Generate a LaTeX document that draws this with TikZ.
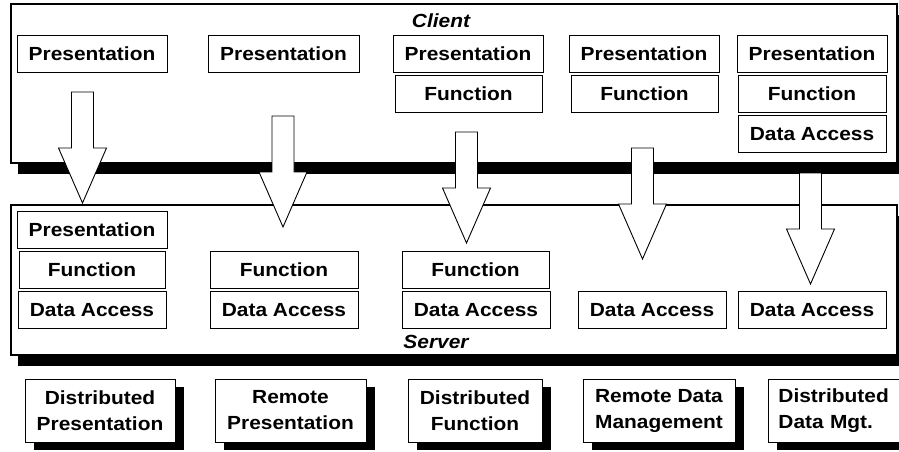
\documentclass[tikz,border=0pt]{standalone}
\usepackage{fontspec}
\setmainfont{Liberation Sans}[FakeStretch=1.1]
\usetikzlibrary{shadows}

\begin{document}
\begin{tikzpicture}[x=1pt, y=-1pt,
		tier/.style={draw, line width=1.6pt, fill=white, inner sep=0pt, minimum width=886pt},
		layer/.style={draw, line width=0.9pt, fill=white, inner sep=0pt, minimum height=37pt,
			font=\bfseries\fontsize{19}{23}\selectfont},
		model/.style={draw, line width=0.9pt, fill=white, inner sep=0pt, minimum height=63pt,
			align=center, font=\bfseries\fontsize{19}{26}\selectfont,
			drop shadow={shadow xshift=9pt, shadow yshift=-8pt, fill=black, opacity=1}},
		tiername/.style={font=\bfseries\itshape\fontsize{19}{23}\selectfont},
		blockarrow/.style={draw, line width=0.9pt, fill=white, line join=miter}]

		\useasboundingbox (0,0) rectangle (899,451);
		\clip (0,0) rectangle (899,451);

		\def\shaft{11} \def\head{24} % half widths of the block arrows
		\def\shaftlen{56} \def\arrowlen{111}

		% Client and server tiers
		\node[tier, minimum height=159pt,
			drop shadow={shadow xshift=7pt, shadow yshift=-11pt, fill=black, opacity=1}]
			(client) at (454,83.5) {};
		\node[tier, minimum height=150pt,
			drop shadow={shadow xshift=7pt, shadow yshift=-11pt, fill=black, opacity=1}]
			(server) at (454,280) {};
		\node[tiername] (clientname) at (441,21) {Client};
		\node[tiername] (servername) at (436,342) {Server};

		% Layers on the client
		\node[layer, minimum width=150pt] (c1p) at (92,54) {Presentation};
		\node[layer, minimum width=151pt] (c2p) at (283.5,54) {Presentation};
		\node[layer, minimum width=150pt] (c3p) at (468,54) {Presentation};
		\node[layer, minimum width=147pt] (c3f) at (468.5,94) {Function};
		\node[layer, minimum width=150pt] (c4p) at (644,54) {Presentation};
		\node[layer, minimum width=147pt] (c4f) at (644.5,94) {Function};
		\node[layer, minimum width=150pt] (c5p) at (812,54) {Presentation};
		\node[layer, minimum width=148pt] (c5f) at (812,94) {Function};
		\node[layer, minimum width=148pt] (c5d) at (812,134) {Data Access};

		% Layers on the server
		\node[layer, minimum width=150pt] (s1p) at (92,230) {Presentation};
		\node[layer, minimum width=146pt] (s1f) at (92,270) {Function};
		\node[layer, minimum width=148pt] (s1d) at (92,310) {Data Access};
		\node[layer, minimum width=148pt] (s2f) at (284,270) {Function};
		\node[layer, minimum width=148pt] (s2d) at (284,310) {Data Access};
		\node[layer, minimum width=147pt] (s3f) at (475.5,270) {Function};
		\node[layer, minimum width=148pt] (s3d) at (476,310) {Data Access};
		\node[layer, minimum width=148pt] (s4d) at (652,310) {Data Access};
		\node[layer, minimum width=148pt] (s5d) at (812,310) {Data Access};

		% Block arrows from client to server
		\foreach \ax/\ay in {82.5/92, 283/116, 466.5/132, 642.5/148, 810.5/173}
			\draw[blockarrow] (\ax-\shaft,\ay) -- (\ax+\shaft,\ay) -- (\ax+\shaft,\ay+\shaftlen)
				-- (\ax+\head,\ay+\shaftlen) -- (\ax,\ay+\arrowlen) -- (\ax-\head,\ay+\shaftlen)
				-- (\ax-\shaft,\ay+\shaftlen) -- cycle;

		% Names of the models
		\node[model, minimum width=150pt] (distpres) at (100,410.5) {Distributed\\Presentation};
		\node[model, minimum width=151pt] (rempres) at (290.5,410.5) {Remote\\Presentation};
		\node[model, minimum width=134pt] (distfunc) at (475,410.5) {Distributed\\Function};
		\node[model, minimum width=152pt] (remdata) at (659,410.5) {Remote Data\\Management};
		\node[model, anchor=west, align=left, text width=130pt, inner xsep=10pt]
			(distdata) at (768,410.5) {Distributed\\Data Mgt.};

	\end{tikzpicture}
\end{document}
